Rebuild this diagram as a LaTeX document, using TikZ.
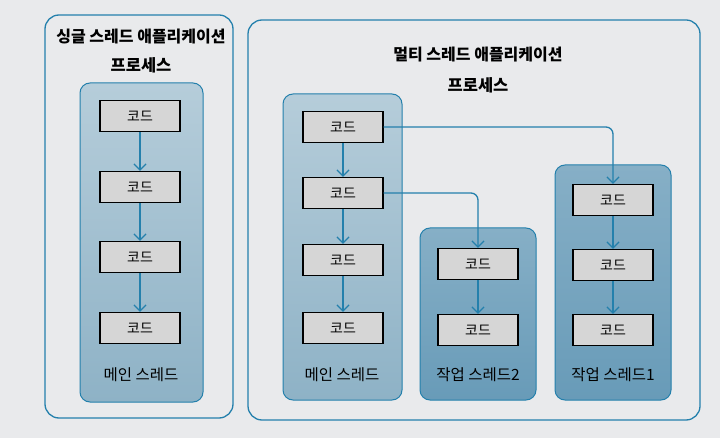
\documentclass[tikz,border=0pt]{standalone}
\usepackage{fontspec}
\setmainfont{Noto Sans CJK KR}
\usetikzlibrary{positioning, arrows.meta, calc}
\definecolor{lineColor}{RGB}{36,128,172}
\definecolor{mainColor}{RGB}{142,178,198}
\definecolor{workColor}{RGB}{104,155,184}
\definecolor{codeColor}{RGB}{214,214,214}
\definecolor{paperColor}{RGB}{233,234,236}
\tikzstyle{app} = [draw=lineColor, line width=1.3pt, rounded corners=14pt]
\tikzstyle{thread} = [draw=lineColor, line width=1pt, rounded corners=10pt]
\tikzstyle{codebox} = [rectangle, draw=black, line width=1.3pt, fill=codeColor, minimum width=80pt, minimum height=31pt, font=\fontsize{14}{16}\selectfont]
\tikzstyle{title} = [font=\fontsize{16}{18}\selectfont\bfseries]
\tikzstyle{proc} = [font=\fontsize{16.5}{18}\selectfont\bfseries]
\tikzstyle{label} = [font=\fontsize{15.5}{17}\selectfont]
\tikzstyle{arrow} = [line width=1.3pt, lineColor, -{Straight Barb[length=6pt, width=12pt]}, rounded corners=7pt]

\begin{document}
\begin{tikzpicture}[x=1pt, y=-1pt]
    % paper
    \fill[paperColor] (0,0) rectangle (720,438);

    % Single thread application
    \draw[app] (45,15) rectangle (233,418);
    \node[title] (stitle) at (141,37) {싱글 스레드 애플리케이션};
    \node[proc] (sproc) at (141,65) {프로세스};
    \draw[thread, top color=mainColor!65, bottom color=mainColor] (80,83) rectangle (203,402);
    \node[codebox] (s1) at (140,116) {코드};
    \node[codebox] (s2) at (140,187) {코드};
    \node[codebox] (s3) at (140,257) {코드};
    \node[codebox] (s4) at (140,328) {코드};
    \node[label] (smain) at (141,375) {메인 스레드};
    \foreach \a/\b in {s1/s2, s2/s3, s3/s4}
        \draw[arrow] (\a) -- (\b);

    % Multi thread application
    \draw[app] (248,20) rectangle (700,420);
    \node[title] (mtitle) at (478,55) {멀티 스레드 애플리케이션};
    \node[proc] (mproc) at (478,85) {프로세스};

    % Main thread
    \draw[thread, top color=mainColor!65, bottom color=mainColor] (283,94) rectangle (402,400);
    \node[codebox] (m1) at (343,127) {코드};
    \node[codebox] (m2) at (343,193) {코드};
    \node[codebox] (m3) at (343,260) {코드};
    \node[codebox] (m4) at (343,328) {코드};
    \node[label] (mmain) at (342,375) {메인 스레드};
    \foreach \a/\b in {m1/m2, m2/m3, m3/m4}
        \draw[arrow] (\a) -- (\b);

    % Worker thread 2
    \draw[thread, top color=workColor!80, bottom color=workColor] (420,228) rectangle (536,400);
    \node[codebox] (b1) at (478,264) {코드};
    \node[codebox] (b2) at (478,330) {코드};
    \node[label] (bmain) at (478,375) {작업 스레드2};
    \draw[arrow] (b1) -- (b2);

    % Worker thread 1
    \draw[thread, top color=workColor!80, bottom color=workColor] (555,165) rectangle (671,400);
    \node[codebox] (a1) at (613,200) {코드};
    \node[codebox] (a2) at (613,265) {코드};
    \node[codebox] (a3) at (613,330) {코드};
    \node[label] (amain) at (613,375) {작업 스레드1};
    \draw[arrow] (a1) -- (a2);
    \draw[arrow] (a2) -- (a3);

    % Spawning threads
    \draw[arrow] (m1.east) -| (a1.north);
    \draw[arrow] (m2.east) -| (b1.north);
\end{tikzpicture}
\end{document}
